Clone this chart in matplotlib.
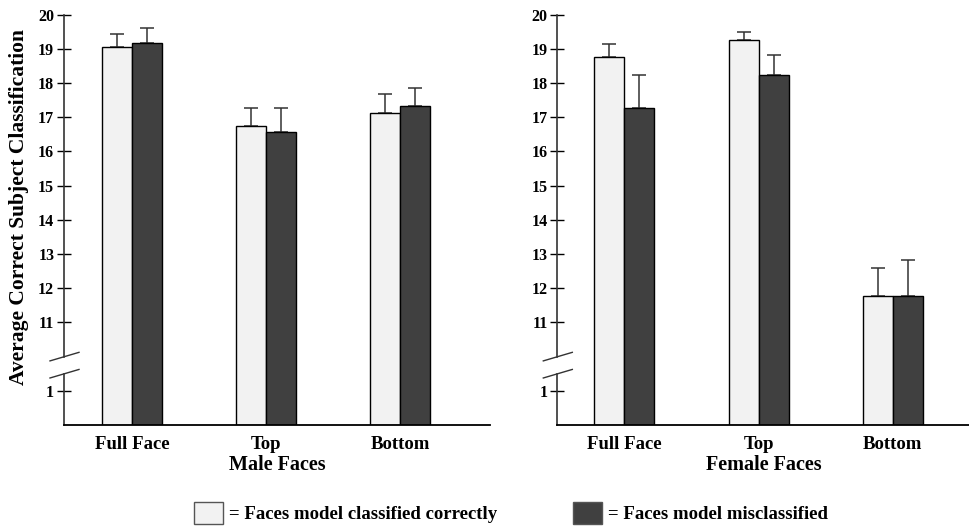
import numpy as np
import matplotlib
matplotlib.use('Agg')
import matplotlib.pyplot as plt
from matplotlib.patches import Patch

plt.rcParams['font.family'] = ['Liberation Serif', 'DejaVu Serif']
plt.rcParams['font.weight'] = 'bold'

# data
categories = ['Full Face', 'Top', 'Bottom']
panels = ['Male Faces', 'Female Faces']

male_correct = [19.06, 16.75, 17.13]
male_correct_err = [0.38, 0.51, 0.56]
male_miscl = [19.18, 16.57, 17.32]
male_miscl_err = [0.44, 0.69, 0.55]

female_correct = [18.75, 19.25, 11.77]
female_correct_err = [0.39, 0.25, 0.81]
female_miscl = [17.26, 18.25, 11.77]
female_miscl_err = [0.99, 0.57, 1.06]

tick_vals = [1, 11, 12, 13, 14, 15, 16, 17, 18, 19, 20]

light = '#f2f2f2'
dark = '#404040'


def pos(v):
    # broken axis: values below the break are shifted up by 8
    v = np.asarray(v, dtype=float)
    return np.where(v >= 11, v, v + 8)


W, H = 970, 526
fig = plt.figure(figsize=(W / 100, H / 100), dpi=100)
ax1 = fig.add_axes([64 / W, 101 / H, 426 / W, 410.3 / H])
ax2 = fig.add_axes([557.3 / W, 101 / H, 412.7 / W, 410.3 / H])

x = np.arange(len(categories))
bw = 0.224
zero = np.zeros(3)

data = [(male_correct, male_correct_err, male_miscl, male_miscl_err),
        (female_correct, female_correct_err, female_miscl, female_miscl_err)]
xlims = [(-0.507, 2.672), (-0.50, 2.575)]

for ax, (c, ce, m, me), title, xl in zip([ax1, ax2], data, panels, xlims):
    base = float(pos(0))
    ax.bar(x - bw / 2, pos(c) - base, bw, bottom=base, color=light,
           edgecolor='black', linewidth=1.0, zorder=2)
    ax.bar(x + bw / 2, pos(m) - base, bw, bottom=base, color=dark,
           edgecolor='black', linewidth=1.0, zorder=2)
    ax.errorbar(x - bw / 2, pos(c), yerr=[zero, ce], fmt='none',
                ecolor='#333333', elinewidth=1.1, capsize=5, capthick=1.1, zorder=1)
    ax.errorbar(x + bw / 2, pos(m), yerr=[zero, me], fmt='none',
                ecolor='#333333', elinewidth=1.1, capsize=5, capthick=1.1, zorder=1)

    ax.set_xlim(*xl)
    ax.set_ylim(base, 20)
    ax.set_xticks(x, categories, fontsize=13.5, fontweight='bold')
    ax.set_yticks(pos(tick_vals), [str(t) for t in tick_vals],
                  fontsize=11.5, fontweight='bold')
    ax.tick_params(axis='x', length=0, pad=8)
    ax.tick_params(axis='y', direction='inout', length=10, width=1,
                   color='black', pad=2)
    ax.set_xlabel(title, fontsize=14.5, fontweight='bold', labelpad=1)

    for s in ['top', 'right', 'left']:
        ax.spines[s].set_visible(False)
    ax.spines['bottom'].set_linewidth(1.3)

    # y axis line with a gap for the break
    tr = ax.get_yaxis_transform()
    ax.plot([0, 0], [base, 9.5], transform=tr, color='#333333', lw=1.2, clip_on=False)
    ax.plot([0, 0], [10, 20], transform=tr, color='#333333', lw=1.2, clip_on=False)
    aw = ax.get_position().width * W
    for yb in [9.5, 10.0]:
        ax.plot([-14 / aw, 15 / aw], [yb - 0.125, yb + 0.125], transform=tr,
                color='#333333', lw=1.0, clip_on=False)

ax1.set_ylabel('Average Correct Subject Classification', fontsize=15.5,
               fontweight='bold')
ax1.yaxis.set_label_coords(-35 / 426, 0.531)

handles = [Patch(facecolor=light, edgecolor='#555555', linewidth=1.0),
           Patch(facecolor=dark, edgecolor='#555555', linewidth=1.0)]
fig.legend(handles, ['= Faces model classified correctly', '= Faces model misclassified'],
           loc='center', bbox_to_anchor=(0.527, 0.0247), ncol=2, frameon=False,
           handlelength=1.55, handleheight=1.4, handletextpad=0.32,
           columnspacing=4.05, borderpad=0, borderaxespad=0,
           prop={'weight': 'bold', 'size': 13.5})

fig.savefig('out.png', dpi=100)
